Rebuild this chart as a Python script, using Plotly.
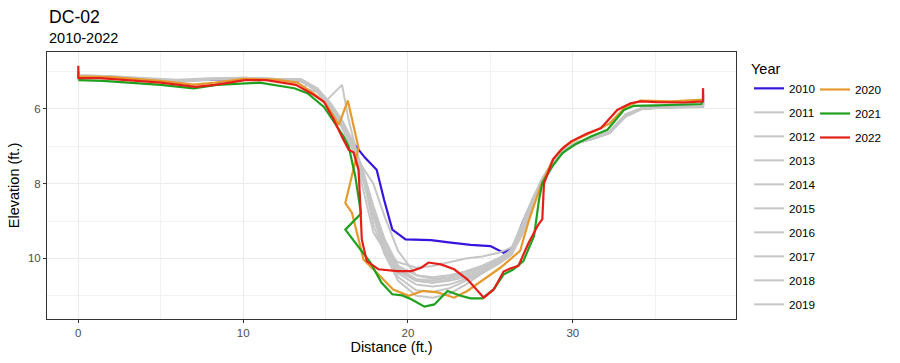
import plotly.graph_objects as go

years = [str(y) for y in range(2010, 2023)]

# Distance (ft.) and elevation (ft.) for each survey year
x_2010 = [0, 0, 2, 5, 7, 8.5, 10, 12, 13.5, 14.5, 15.2, 15.9, 16.6, 17.4, 18.1, 18.55, 19.05, 19.85, 21.4, 22.6, 23.8, 25.0, 25.8, 26.4, 26.9, 27.3, 28.1, 28.8, 29.5, 30.3, 31.2, 32.2, 33.2, 34.2, 36, 37.9, 37.9]
e_2010 = [5.0, 5.12, 5.17, 5.23, 5.23, 5.22, 5.2, 5.22, 5.25, 5.5, 5.95, 6.43, 6.87, 7.31, 7.63, 8.43, 9.23, 9.49, 9.51, 9.58, 9.64, 9.67, 9.85, 9.7, 9.1, 8.7, 7.95, 7.45, 7.1, 6.9, 6.8, 6.65, 6.2, 5.98, 5.95, 5.92, 5.6]

x_grey = [0, 0, 2, 4, 6, 8, 10, 12, 13.5, 14.5, 15.3, 16.0, 16.7, 17.3, 17.9, 18.6, 19.4, 20.5, 21.5, 22.5, 23.5, 24.5, 25.5, 26.3, 26.9, 27.5, 28.1, 28.8, 29.5, 30.3, 31.2, 32.2, 33.2, 34.2, 36.0, 37.9, 37.9]
e_2011 = [5.0, 5.12, 5.14, 5.2, 5.25, 5.2, 5.18, 5.2, 5.22, 5.5, 5.95, 6.4, 7.0, 7.7, 8.6, 9.5, 10.2, 10.45, 10.5, 10.45, 10.35, 10.2, 10.0, 9.8, 9.3, 8.6, 7.9, 7.4, 7.1, 6.9, 6.78, 6.62, 6.15, 5.98, 5.95, 5.93, 5.6]
e_2012 = [5.05, 5.1, 5.13, 5.18, 5.22, 5.18, 5.17, 5.2, 5.2, 5.45, 5.85, 6.3, 6.9, 7.9, 9.1, 9.9, 10.35, 10.6, 10.65, 10.6, 10.5, 10.35, 10.1, 9.85, 9.4, 8.7, 7.95, 7.45, 7.12, 6.92, 6.8, 6.65, 6.2, 6.0, 5.95, 5.92, 5.62]
e_2013 = [5.0, 5.15, 5.17, 5.22, 5.28, 5.22, 5.2, 5.23, 5.25, 5.55, 6.0, 6.5, 7.1, 7.6, 8.0, 8.9, 9.8, 10.45, 10.55, 10.5, 10.4, 10.25, 10.05, 9.75, 9.2, 8.5, 7.95, 7.42, 7.1, 6.9, 6.8, 6.65, 6.18, 5.98, 5.96, 5.95, 5.65]
x_2014 = [0, 0, 2, 4, 6, 8, 10, 12, 13.5, 13.9, 13.7, 14.5, 15.0, 16.0, 16.4, 16.8, 17.4, 18.0, 18.6, 19.4, 20.5, 21.5, 22.5, 23.5, 24.5, 25.5, 26.3, 26.9, 27.5, 28.1, 28.8, 29.5, 30.3, 31.2, 32.2, 33.2, 34.2, 36, 37.9, 37.9]
e_2014 = [5.0, 5.12, 5.15, 5.2, 5.25, 5.2, 5.18, 5.2, 5.22, 5.3, 5.45, 5.55, 5.8, 5.36, 6.3, 7.0, 7.9, 8.8, 9.6, 10.25, 10.55, 10.6, 10.5, 10.35, 10.2, 10.0, 9.8, 9.25, 8.55, 7.9, 7.42, 7.1, 6.9, 6.8, 6.65, 6.18, 6.0, 5.96, 5.95, 5.6]
e_2015 = [5.05, 5.12, 5.15, 5.2, 5.25, 5.2, 5.17, 5.2, 5.23, 5.5, 5.95, 6.45, 7.05, 7.8, 8.9, 9.8, 10.5, 10.85, 10.9, 10.8, 10.6, 10.4, 10.15, 9.9, 9.35, 8.6, 7.95, 7.45, 7.1, 6.9, 6.8, 6.63, 6.2, 6.0, 5.96, 5.95, 5.6]
e_2016 = [5.0, 5.13, 5.15, 5.21, 5.26, 5.21, 5.19, 5.22, 5.24, 5.5, 5.9, 6.35, 7.1, 8.2, 9.3, 9.8, 10.1, 10.25, 10.2, 10.1, 10.0, 9.95, 9.85, 9.7, 9.1, 8.45, 7.9, 7.4, 7.08, 6.88, 6.78, 6.62, 6.15, 5.98, 5.95, 5.93, 5.6]
e_2017 = [5.05, 5.1, 5.13, 5.2, 5.25, 5.2, 5.18, 5.2, 5.22, 5.48, 5.92, 6.4, 7.0, 7.8, 8.8, 9.9, 10.6, 11.0, 11.05, 10.95, 10.7, 10.4, 10.1, 9.85, 9.3, 8.6, 7.95, 7.42, 7.1, 6.9, 6.8, 6.64, 6.2, 6.0, 5.96, 5.95, 5.62]
e_2018 = [5.0, 5.12, 5.14, 5.2, 5.26, 5.2, 5.18, 5.21, 5.24, 5.52, 5.97, 6.5, 7.15, 7.95, 8.8, 9.6, 10.3, 10.6, 10.65, 10.55, 10.45, 10.3, 10.05, 9.8, 9.25, 8.55, 7.95, 7.42, 7.1, 6.9, 6.8, 6.65, 6.18, 6.0, 5.96, 5.94, 5.6]
e_2019 = [5.05, 5.12, 5.15, 5.2, 5.25, 5.2, 5.18, 5.2, 5.23, 5.5, 5.93, 6.42, 7.05, 7.75, 8.7, 9.7, 10.4, 10.7, 10.75, 10.7, 10.55, 10.35, 10.1, 9.85, 9.3, 8.6, 7.95, 7.45, 7.1, 6.9, 6.8, 6.63, 6.2, 5.99, 5.95, 5.94, 5.62]

x_2020 = [0, 0, 2, 5, 7, 8.3, 10, 12, 13.3, 14.3, 15.0, 15.8, 16.35, 17.0, 16.2, 16.6, 17.0, 17.3, 18.3, 19.1, 20.05, 20.9, 21.8, 22.8, 23.6, 24.6, 25.6, 26.8, 27.35, 28.05, 28.8, 29.5, 30.3, 31.2, 32.2, 33.2, 34.1, 36, 37.9, 37.9]
e_2020 = [5.0, 5.13, 5.15, 5.25, 5.35, 5.3, 5.2, 5.22, 5.3, 5.6, 5.85, 6.43, 5.78, 7.05, 8.52, 8.78, 9.49, 10.03, 10.47, 10.83, 11.0, 10.87, 10.91, 11.05, 10.87, 10.56, 10.25, 9.8, 8.96, 8.07, 7.35, 7.0, 6.8, 6.62, 6.4, 5.95, 5.78, 5.8, 5.75, 5.45]

x_2021 = [0, 1.5, 5, 7, 8.4, 11, 13.1, 13.9, 14.9, 15.5, 16.1, 16.4, 16.8, 17.15, 16.2, 17.7, 18.4, 19.05, 19.65, 20.2, 21.0, 21.6, 22.4, 23.2, 23.8, 24.5, 25.2, 25.8, 26.4, 27.0, 27.65, 27.95, 28.15, 28.76, 29.37, 30.1, 31.1, 32.1, 33.1, 33.7, 35.1, 37.8, 37.9]
e_2021 = [5.23, 5.25, 5.36, 5.45, 5.36, 5.3, 5.45, 5.58, 5.95, 6.35, 6.74, 7.0, 7.8, 8.8, 9.23, 10.1, 10.65, 10.96, 10.99, 11.09, 11.29, 11.23, 10.87, 11.0, 11.07, 11.07, 10.83, 10.43, 10.29, 10.07, 9.4, 8.43, 7.98, 7.54, 7.18, 6.96, 6.74, 6.56, 6.03, 5.92, 5.91, 5.87, 5.75]

x_2022 = [0, 0, 1.3, 5, 7.1, 8.3, 10.1, 11.4, 13.2, 14.3, 14.9, 15.5, 16.0, 16.4, 16.7, 17.0, 17.1, 17.2, 17.5, 18.2, 19.35, 20.2, 20.8, 21.25, 22.0, 22.8, 23.6, 24.6, 25.2, 25.8, 26.2, 26.7, 27.3, 27.9, 28.15, 28.25, 28.8, 29.3, 29.9, 30.9, 31.7, 32.3, 32.7, 33.5, 34.1, 35.1, 36.7, 37.9, 37.9]
e_2022 = [4.85, 5.18, 5.18, 5.3, 5.41, 5.36, 5.23, 5.23, 5.36, 5.63, 5.81, 6.29, 6.75, 7.09, 7.17, 7.63, 8.5, 9.5, 10.07, 10.29, 10.34, 10.34, 10.25, 10.11, 10.16, 10.29, 10.56, 11.05, 10.83, 10.35, 10.27, 10.2, 9.6, 9.1, 8.95, 8.0, 7.35, 7.09, 6.87, 6.65, 6.52, 6.24, 6.03, 5.85, 5.8, 5.82, 5.83, 5.8, 5.45]

series = {
    "2010": (x_2010, e_2010), "2011": (x_grey, e_2011), "2012": (x_grey, e_2012),
    "2013": (x_grey, e_2013), "2014": (x_2014, e_2014), "2015": (x_grey, e_2015),
    "2016": (x_grey, e_2016), "2017": (x_grey, e_2017), "2018": (x_grey, e_2018),
    "2019": (x_grey, e_2019), "2020": (x_2020, e_2020), "2021": (x_2021, e_2021),
    "2022": (x_2022, e_2022),
}
colors = {"2010": "#3814DC", "2020": "#E69A2E", "2021": "#1FA01F", "2022": "#E41F1A"}
GREY = "#C6C6C6"

x_ticks = [0, 10, 20, 30]
y_ticks = [6, 8, 10]

fig = go.Figure()
for yr in years:
    xs, es = series[yr]
    fig.add_trace(go.Scatter(
        x=xs, y=es, mode="lines", name=yr,
        line=dict(color=colors.get(yr, GREY), width=2.2 if yr in colors else 2),
        legendgroup=yr,
        legend="legend" if int(yr) < 2020 else "legend2",
    ))

W, H = 900, 363
L, R, T, B = 47, 164, 52, 44
fig.update_layout(
    width=W, height=H,
    margin=dict(l=L, r=R, t=T, b=B, autoexpand=False),
    paper_bgcolor="white", plot_bgcolor="white",
    font=dict(family="Liberation Sans, Arial, sans-serif", color="#000000"),
    xaxis=dict(
        range=[-1.9, 39.9], tickvals=x_ticks, ticktext=[str(v) for v in x_ticks],
        showgrid=True, gridcolor="#EBEBEB", gridwidth=1.1,
        minor=dict(dtick=5, tick0=5, showgrid=True, gridcolor="#F2F2F2", gridwidth=0.6),
        zeroline=False, showline=True, linecolor="#333333", linewidth=1, mirror=True,
        ticks="outside", ticklen=3, tickcolor="#333333", tickwidth=1,
        tickfont=dict(size=11.5, color="#4D4D4D"), automargin=False,
        title=dict(text="Distance (ft.)", font=dict(size=14.5, color="#000000"), standoff=4),
    ),
    yaxis=dict(
        range=[11.62, 4.48], tickvals=y_ticks, ticktext=[str(v) for v in y_ticks],
        showgrid=True, gridcolor="#EBEBEB", gridwidth=1.1,
        minor=dict(dtick=2, tick0=5, showgrid=True, gridcolor="#F2F2F2", gridwidth=0.6),
        zeroline=False, showline=True, linecolor="#333333", linewidth=1, mirror=True,
        ticks="outside", ticklen=3, tickcolor="#333333", tickwidth=1,
        tickfont=dict(size=11.5, color="#4D4D4D"), automargin=False,
        title=dict(text="Elevation (ft.)", font=dict(size=14.5, color="#000000"), standoff=4),
    ),
    legend=dict(
        title=dict(text="Year", font=dict(size=14.5)),
        xref="container", yref="container",
        x=749 / W, y=1 - 55 / H, xanchor="left", yanchor="top",
        font=dict(size=11.7), traceorder="grouped", tracegroupgap=5,
        itemwidth=30, bgcolor="rgba(0,0,0,0)", maxheight=320,
    ),
    legend2=dict(
        xref="container", yref="container",
        x=815 / W, y=1 - 75 / H, xanchor="left", yanchor="top",
        font=dict(size=11.7), traceorder="grouped", tracegroupgap=5,
        itemwidth=30, bgcolor="rgba(0,0,0,0)", maxheight=200,
    ),
    annotations=[
        dict(text="DC-02", x=0, y=1.131, xref="paper", yref="paper", xanchor="left",
             yanchor="middle", showarrow=False, font=dict(size=17.6, color="#000000")),
        dict(text="2010-2022", x=0, y=1.0524, xref="paper", yref="paper", xanchor="left",
             yanchor="middle", showarrow=False, font=dict(size=14.5, color="#000000")),
    ],
)

fig.write_html("out.html", config={"displayModeBar": False},
               post_script="document.body.style.margin='0';")
